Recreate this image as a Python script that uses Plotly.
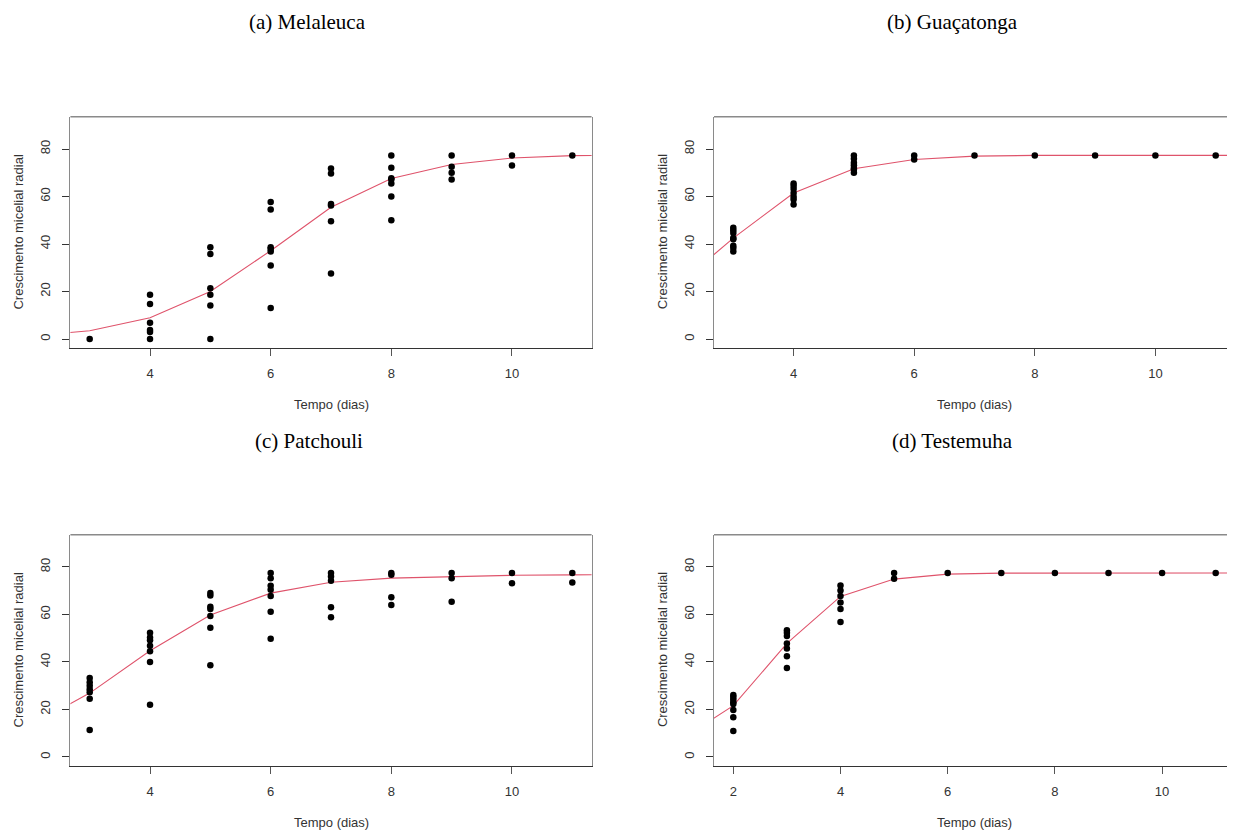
import plotly.graph_objects as go

# ---------------- data ----------------
panel_titles = ["(a) Melaleuca", "(b) Guaçatonga", "(c) Patchouli", "(d) Testemuha"]
x_title = "Tempo (dias)"
y_title = "Crescimento micelial radial"
y_ticks = [0, 20, 40, 60, 80]

mel_days = [3, 4, 5, 6, 7, 8, 9, 10, 11]
mel_obs = [
    [0],
    [18.6, 14.8, 6.9, 3.8, 3.0, 0],
    [38.6, 35.8, 21.4, 18.6, 14.1, 0],
    [57.7, 54.5, 38.6, 37.9, 36.9, 31.0, 13.1],
    [71.8, 69.7, 56.9, 56.2, 49.6, 27.6],
    [77.3, 72.1, 67.7, 67.2, 65.5, 60.0, 50.0],
    [77.3, 72.5, 70.0, 67.2],
    [77.3, 73.1],
    [77.3],
]
mel_fit_x = [2, 3, 4, 5, 6, 7, 8, 9, 10, 11, 12]
mel_fit_y = [1.3, 3.5, 9.0, 20.0, 37.2, 55.5, 67.6, 73.5, 76.2, 77.2, 77.5]

gua_days = [3, 4, 5, 6, 7, 8, 9, 10, 11]
gua_obs = [
    [46.8, 45.8, 44.6, 42.5, 42.0, 39.3, 38.3, 36.9],
    [65.5, 64.4, 63.2, 61.5, 59.9, 58.7, 56.6],
    [77.3, 75.9, 74.2, 73.2, 72.0, 71.4, 70.0],
    [77.3, 75.6],
    [77.3],
    [77.3],
    [77.3],
    [77.3],
    [77.3],
]
gua_fit_x = [2, 3, 4, 5, 6, 7, 8, 9, 10, 11, 12]
gua_fit_y = [21.0, 42.5, 61.5, 71.7, 75.6, 77.0, 77.3, 77.3, 77.3, 77.3, 77.3]

pat_days = [3, 4, 5, 6, 7, 8, 9, 10, 11]
pat_obs = [
    [33.2, 31.5, 30.0, 28.5, 27.3, 24.5, 11.3],
    [52.3, 50.3, 49.2, 46.8, 44.5, 40.0, 22.0],
    [69.0, 68.0, 63.3, 62.3, 59.4, 54.4, 38.6],
    [77.5, 75.3, 72.1, 70.4, 67.8, 61.1, 49.8],
    [77.5, 76.0, 74.2, 63.0, 58.8],
    [77.5, 76.7, 67.3, 64.0],
    [77.5, 75.3, 65.4],
    [77.5, 73.2],
    [77.5, 73.5],
]
pat_fit_x = [2, 3, 4, 5, 6, 7, 8, 9, 10, 11, 12]
pat_fit_y = [13.0, 26.9, 44.7, 59.8, 69.0, 73.6, 75.3, 76.0, 76.5, 76.7, 76.8]

tes_days = [2, 3, 4, 5, 6, 7, 8, 9, 10, 11]
tes_obs = [
    [26.1, 25.2, 24.2, 23.0, 22.3, 19.8, 16.7, 10.9],
    [53.4, 52.3, 50.9, 47.8, 45.7, 42.4, 37.5],
    [72.2, 70.1, 67.8, 65.0, 62.3, 56.8],
    [77.5, 75.0],
    [77.5],
    [77.5],
    [77.5],
    [77.5],
    [77.5],
    [77.5],
]
tes_fit_x = [1, 2, 3, 4, 5, 6, 7, 8, 9, 10, 11, 12]
tes_fit_y = [7.0, 21.6, 47.8, 67.6, 74.9, 77.0, 77.4, 77.5, 77.5, 77.5, 77.5, 77.5]

# ---------------- layout geometry (page pixels) ----------------
OFF = 8  # default page body margin
W, H = 1235 - OFF, 830 - OFF
LEFT_X = (70.4, 591.6)
RIGHT_X = (714.0, 1235.0)
TOP_Y = (116.7, 347.6)
BOT_Y = (534.7, 765.5)


def fx(px):
    return (px - OFF) / W


def fy(py):
    return 1 - (py - OFF) / H


panels = [
    dict(days=mel_days, obs=mel_obs, fx=mel_fit_x, fy=mel_fit_y, px=LEFT_X, py=TOP_Y,
         xr=[2.68, 11.32], xt=[4, 6, 8, 10], right=False, title_x=307, title_y=22),
    dict(days=gua_days, obs=gua_obs, fx=gua_fit_x, fy=gua_fit_y, px=RIGHT_X, py=TOP_Y,
         xr=[2.68, 11.32], xt=[4, 6, 8, 10], right=True, title_x=952, title_y=22),
    dict(days=pat_days, obs=pat_obs, fx=pat_fit_x, fy=pat_fit_y, px=LEFT_X, py=BOT_Y,
         xr=[2.68, 11.32], xt=[4, 6, 8, 10], right=False, title_x=309, title_y=441),
    dict(days=tes_days, obs=tes_obs, fx=tes_fit_x, fy=tes_fit_y, px=RIGHT_X, py=BOT_Y,
         xr=[1.64, 11.36], xt=[2, 4, 6, 8, 10], right=True, title_x=952, title_y=441),
]

LINE_COL = "#DF536B"
TICK_FONT = dict(family="Liberation Sans, Arial, sans-serif", size=13, color="#333333")
AX_FONT = dict(family="Liberation Sans, Arial, sans-serif", size=13, color="#333333")
TITLE_FONT = dict(family="Liberation Serif, Times New Roman, serif", size=21, color="#000000")

fig = go.Figure()
layout = dict(
    width=W, height=H,
    margin=dict(l=0, r=0, t=0, b=0),
    paper_bgcolor="white", plot_bgcolor="white",
    showlegend=False,
)
annotations = []
shapes = []

for i, p in enumerate(panels):
    n = i + 1
    xa = "x" if n == 1 else f"x{n}"
    ya = "y" if n == 1 else f"y{n}"
    xs, ys = [], []
    for d, vals in zip(p["days"], p["obs"]):
        for v in vals:
            xs.append(d)
            ys.append(v)
    fig.add_trace(go.Scatter(x=p["fx"], y=p["fy"], mode="lines",
                             line=dict(color=LINE_COL, width=1.1),
                             xaxis=xa, yaxis=ya, hoverinfo="skip"))
    fig.add_trace(go.Scatter(x=xs, y=ys, mode="markers",
                             marker=dict(color="black", size=6.5, line=dict(width=0)),
                             xaxis=xa, yaxis=ya, cliponaxis=False))
    xd = [fx(p["px"][0]), min(1.0, fx(p["px"][1]))]
    yd = [fy(p["py"][1]), fy(p["py"][0])]
    xkey = "xaxis" if n == 1 else f"xaxis{n}"
    ykey = "yaxis" if n == 1 else f"yaxis{n}"
    layout[xkey] = dict(
        domain=xd, range=p["xr"], anchor=ya,
        tickvals=p["xt"], ticktext=[str(t) for t in p["xt"]],
        ticks="outside", ticklen=7, tickwidth=1, tickcolor="#555555",
        showline=True, linecolor="#333333", linewidth=1.2, mirror=False,
        showgrid=False, zeroline=False, tickfont=TICK_FONT,
        ticklabelstandoff=7,
    )
    layout[ykey] = dict(
        domain=yd, range=[-3.6, 93.6], anchor=xa,
        tickvals=y_ticks, ticktext=[str(t) for t in y_ticks],
        ticks="outside", ticklen=7, tickwidth=1, tickcolor="#333333",
        showline=True, linecolor="#8a8a8a", linewidth=1.4,
        mirror=(not p["right"]),
        showgrid=False, zeroline=False, tickfont=TICK_FONT, tickangle=-90,
        ticklabelstandoff=7,
    )
    # top border line
    shapes.append(dict(type="line", xref="paper", yref="paper",
                       x0=xd[0], x1=xd[1], y0=yd[1], y1=yd[1],
                       line=dict(color="#8a8a8a", width=1.4)))
    # panel title
    annotations.append(dict(text=panel_titles[i], x=fx(p["title_x"]), y=fy(p["title_y"]),
                            xref="paper", yref="paper", showarrow=False,
                            xanchor="center", yanchor="middle", font=TITLE_FONT))
    # x axis title
    annotations.append(dict(text=x_title, x=fx(p["px"][0] + (LEFT_X[1] - LEFT_X[0]) / 2),
                            y=fy(p["py"][1] + 57),
                            xref="paper", yref="paper", showarrow=False,
                            xanchor="center", yanchor="middle", font=AX_FONT))
    # y axis title
    annotations.append(dict(text=y_title, x=fx(p["px"][0] - 52),
                            y=fy((p["py"][0] + p["py"][1]) / 2),
                            xref="paper", yref="paper", showarrow=False, textangle=-90,
                            xanchor="center", yanchor="middle", font=AX_FONT))

layout["annotations"] = annotations
layout["shapes"] = shapes
fig.update_layout(**layout)
fig.write_html("out.html")
